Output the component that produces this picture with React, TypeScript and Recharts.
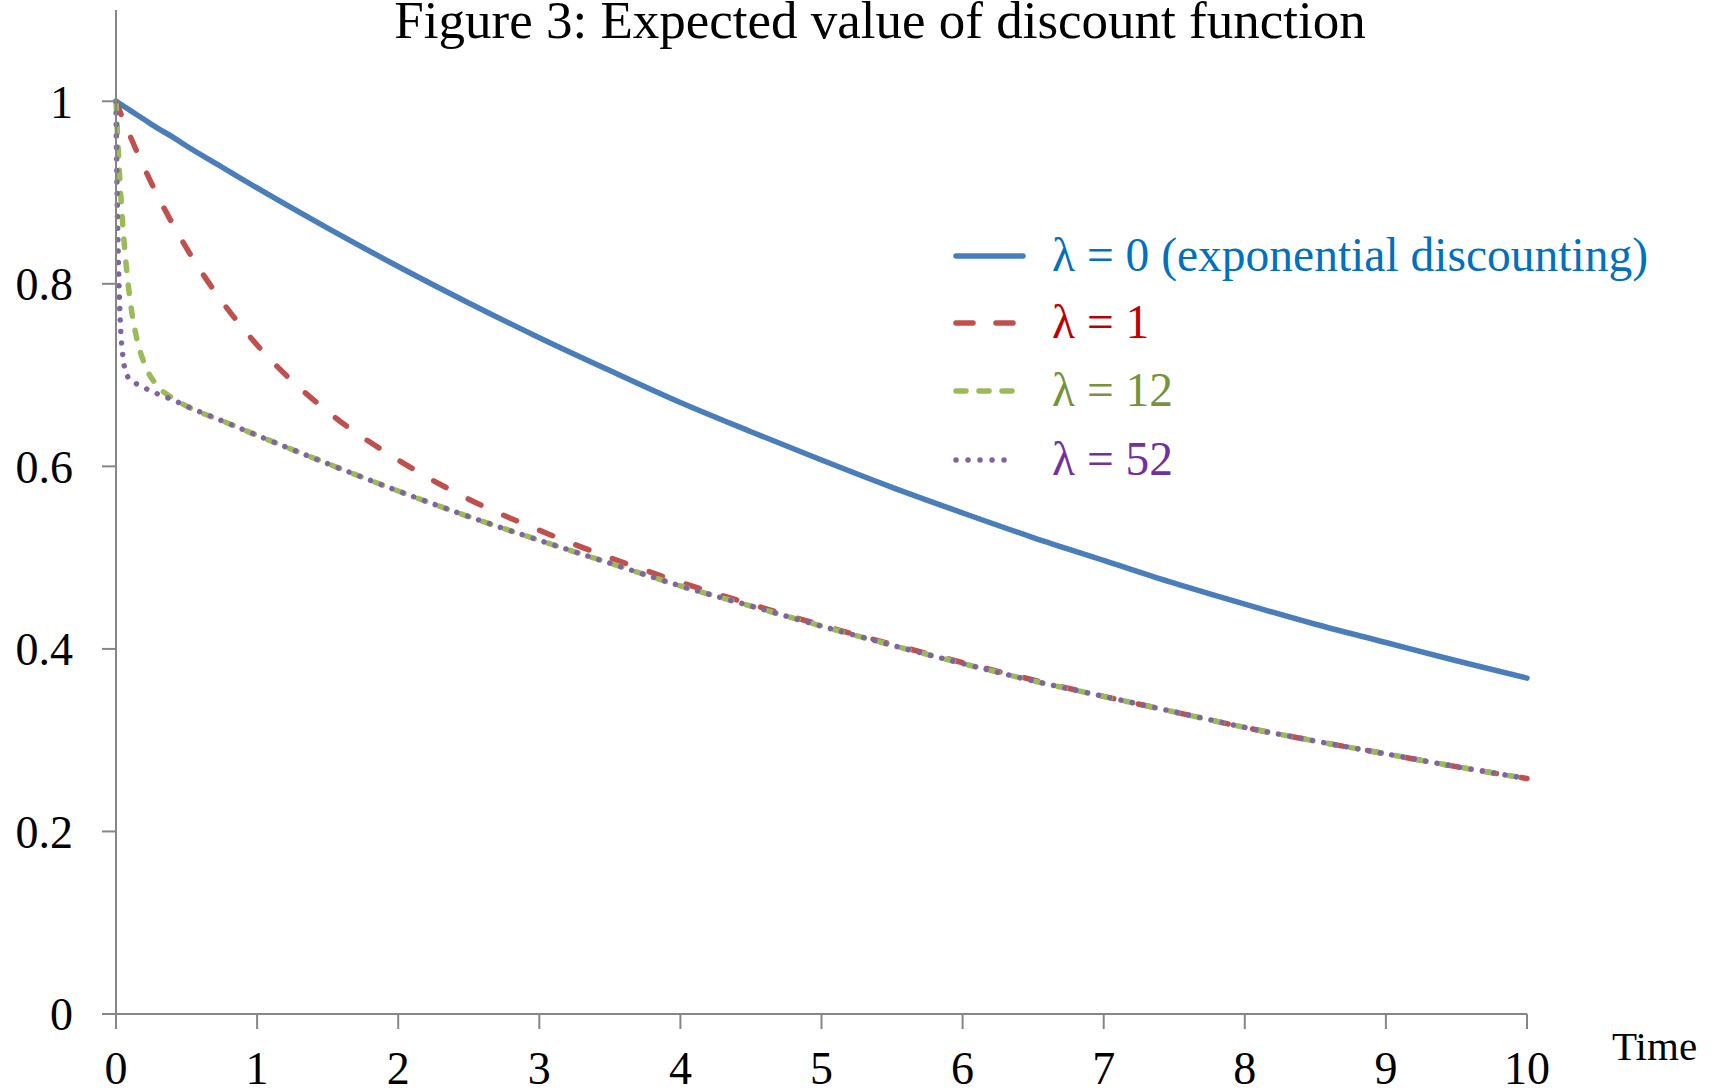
import { LineChart, Line, XAxis, YAxis } from 'recharts'

// time grid (denser near 0 where the high-lambda curves drop)
const time = [0, 0.005, 0.01, 0.02, 0.03, 0.05, 0.07, 0.1, 0.15, 0.2, 0.3, 0.4, 0.5, 0.75,
  1, 1.5, 2, 2.5, 3, 3.5, 4, 4.5, 5, 5.5, 6, 6.5, 7, 7.5, 8, 8.5, 9, 9.5, 10]

const lambda0 = [1, 0.9995, 0.999, 0.998, 0.997, 0.995, 0.993, 0.990, 0.985, 0.980, 0.970, 0.961, 0.951, 0.928,
  0.905, 0.861, 0.819, 0.779, 0.741, 0.705, 0.670, 0.638, 0.607, 0.577, 0.549, 0.522, 0.497, 0.472, 0.449, 0.427, 0.407, 0.387, 0.368]
const lambda1 = [1, 0.998, 0.996, 0.992, 0.988, 0.980, 0.973, 0.962, 0.944, 0.927, 0.895, 0.866, 0.839, 0.781,
  0.733, 0.660, 0.607, 0.564, 0.530, 0.500, 0.473, 0.449, 0.426, 0.405, 0.385, 0.366, 0.348, 0.331, 0.314, 0.299, 0.285, 0.271, 0.258]
const lambda12 = [1, 0.983, 0.965, 0.934, 0.907, 0.860, 0.824, 0.782, 0.738, 0.713, 0.687, 0.675, 0.666, 0.650,
  0.634, 0.603, 0.573, 0.545, 0.519, 0.494, 0.469, 0.447, 0.425, 0.404, 0.384, 0.365, 0.348, 0.331, 0.314, 0.299, 0.285, 0.271, 0.258]
const lambda52 = [1, 0.931, 0.878, 0.804, 0.761, 0.719, 0.703, 0.695, 0.690, 0.686, 0.679, 0.673, 0.666, 0.650,
  0.634, 0.603, 0.573, 0.545, 0.519, 0.494, 0.469, 0.447, 0.425, 0.404, 0.384, 0.365, 0.348, 0.331, 0.314, 0.299, 0.285, 0.271, 0.258]

const xTicks = [0, 1, 2, 3, 4, 5, 6, 7, 8, 9, 10]
const yTicks = [0, 0.2, 0.4, 0.6, 0.8, 1]

const seriesNames = ['λ = 0 (exponential discounting)', 'λ = 1', 'λ = 12', 'λ = 52']

const data = time.map((t, i) => ({
  t, l0: lambda0[i], l1: lambda1[i], l12: lambda12[i], l52: lambda52[i],
}))

const FONT = '"Liberation Serif", "Times New Roman", serif'
const AXIS = '#868686'

const legendRows = [
  { name: seriesNames[0], stroke: '#4a7ebb', text: '#0070c0', dash: undefined },
  { name: seriesNames[1], stroke: '#c0504d', text: '#c00000', dash: '17 23' },
  { name: seriesNames[2], stroke: '#9bbb59', text: '#77933c', dash: '10 13' },
  { name: seriesNames[3], stroke: '#8064a2', text: '#7030a0', dash: '0.01 12' },
]

// legend drawn over the chart so it takes no room from the plot
function LegendBox() {
  const rowY = [256, 323, 391, 460]
  return (
    <g>
      {legendRows.map((r, i) => (
        <g key={r.name}>
          <line x1={956} x2={r.dash ? 1015 : 1023} y1={rowY[i]} y2={rowY[i]} stroke={r.stroke}
            strokeWidth={5.5} strokeLinecap='round' strokeDasharray={r.dash} />
          <text x={1052} y={rowY[i] + 15} fill={r.text} fontFamily={FONT} fontSize={47.5}>{r.name}</text>
        </g>
      ))}
    </g>
  )
}

export default function App() {
  return (
    <div style={{ position: 'absolute', left: 0, top: 0, width: 1713, height: 1090, background: 'white' }}>
      <LineChart width={1713} height={1090} data={data}
        margin={{ top: 10, right: 186, bottom: 0, left: 0 }}>
        <XAxis dataKey='t' type='number' domain={[0, 10]} ticks={xTicks} height={76}
          stroke={AXIS} strokeWidth={2} tickSize={15} tickMargin={22}
          tick={{ fontSize: 46, fill: '#000', fontFamily: FONT }} />
        <YAxis type='number' domain={[0, 1.1]} ticks={yTicks} width={116}
          stroke={AXIS} strokeWidth={2} tickSize={14} tickMargin={29}
          tick={{ fontSize: 46, fill: '#000', fontFamily: FONT }} />
        <Line dataKey='l0' name={seriesNames[0]} type='monotone' stroke='#4a7ebb' strokeWidth={5.5}
          strokeLinecap='round' dot={false} isAnimationActive={false} />
        <Line dataKey='l1' name={seriesNames[1]} type='monotone' stroke='#c0504d' strokeWidth={5.5}
          strokeLinecap='round' strokeDasharray='14 25' dot={false} isAnimationActive={false} />
        <Line dataKey='l12' name={seriesNames[2]} type='monotone' stroke='#9bbb59' strokeWidth={5.5}
          strokeLinecap='round' strokeDasharray='8.5 14.5' dot={false} isAnimationActive={false} />
        <Line dataKey='l52' name={seriesNames[3]} type='monotone' stroke='#8064a2' strokeWidth={5.5}
          strokeLinecap='round' strokeDasharray='0.01 11.5' dot={false} isAnimationActive={false} />
      </LineChart>
      <svg width={1713} height={1090} style={{ position: 'absolute', left: 0, top: 0, pointerEvents: 'none' }}>
        <text x={880} y={38} textAnchor='middle' fontFamily={FONT} fontSize={53} fill='#000'>
          Figure 3: Expected value of discount function
        </text>
        <text x={1612} y={1060} fontFamily={FONT} fontSize={41} fill='#000'>Time</text>
        <LegendBox />
      </svg>
    </div>
  )
}
